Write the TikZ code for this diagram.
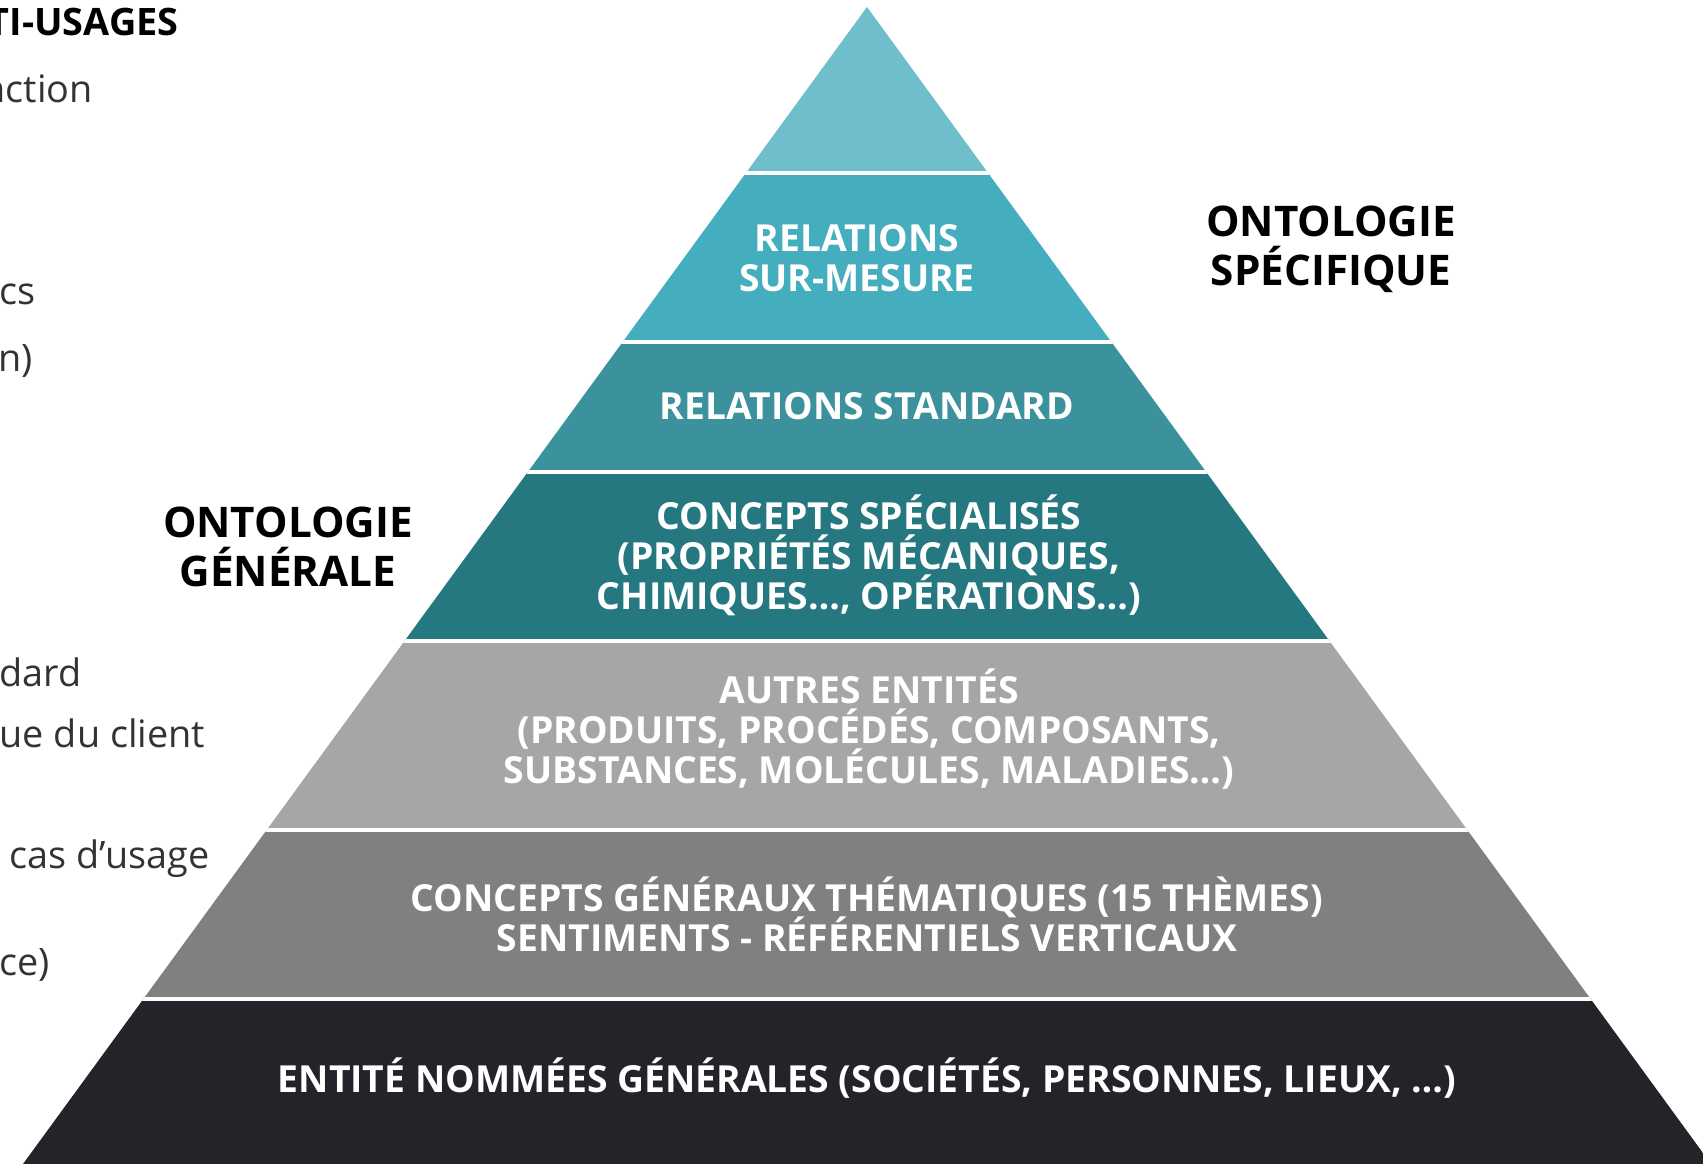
\documentclass[tikz,border=0pt]{standalone}
\usepackage{fontspec}
\setmainfont{Open Sans}
\definecolor{tealA}{RGB}{110,191,203}
\definecolor{tealB}{RGB}{69,174,190}
\definecolor{tealC}{RGB}{59,146,157}
\definecolor{tealD}{RGB}{37,120,128}
\definecolor{greyA}{RGB}{166,166,166}
\definecolor{greyB}{RGB}{128,128,128}
\definecolor{darkband}{RGB}{34,36,41}
\definecolor{txtgrey}{RGB}{51,51,51}
\newcommand{\tightlines}{\setlength{\lineskiplimit}{-20pt}}
\begin{document}
\begin{tikzpicture}[x=0.01cm,y=-0.01cm,
    bandtxt/.style={white,align=center,inner sep=0pt,font={\bfseries\fontsize{10.6}{11.4}\selectfont\tightlines}},
    sidetxt/.style={black,align=center,inner sep=0pt,font={\bfseries\fontsize{12}{14}\selectfont\tightlines}},
    frag/.style={anchor=base west,inner sep=0pt,txtgrey,font=\fontsize{10.75}{13}\selectfont}]
    \useasboundingbox (0,0) rectangle (1703,1164);
    \clip (0,0) rectangle (1703,1164);
    % pyramide
    \begin{scope}
        \clip (867,7)--(23,1164)--(1711,1164)--cycle;
        \fill[tealA] (0,0) rectangle (1703,173);
        \fill[tealB] (0,173) rectangle (1703,342);
        \fill[tealC] (0,342) rectangle (1703,472);
        \fill[tealD] (0,472) rectangle (1703,641);
        \fill[greyA] (0,641) rectangle (1703,830);
        \fill[greyB] (0,830) rectangle (1703,999);
        \fill[darkband] (0,999) rectangle (1703,1164);
        \draw[white,line width=1pt] (0,173)--(1703,173) (0,342)--(1703,342) (0,472)--(1703,472)
            (0,641)--(1703,641) (0,830)--(1703,830) (0,999)--(1703,999);
    \end{scope}
    \node[bandtxt] (surmesure) at (857,258) {RELATIONS\\SUR-MESURE};
    \node[bandtxt] (standard) at (867,406) {RELATIONS STANDARD};
    \node[bandtxt] (specialises) at (869,555) {CONCEPTS SPÉCIALISÉS\\(PROPRIÉTÉS MÉCANIQUES,\\CHIMIQUES…, OPÉRATIONS…)};
    \node[bandtxt] (autres) at (869,729) {AUTRES ENTITÉS\\(PRODUITS, PROCÉDÉS, COMPOSANTS,\\SUBSTANCES, MOLÉCULES, MALADIES…)};
    \node[bandtxt] (generaux) at (867,914) {CONCEPTS GÉNÉRAUX THÉMATIQUES (15 THÈMES)\\SENTIMENTS - RÉFÉRENTIELS VERTICAUX};
    \node[bandtxt] (nommees) at (867,1078) {ENTITÉ NOMMÉES GÉNÉRALES (SOCIÉTÉS, PERSONNES, LIEUX, …)};
    % ontologies
    \node[sidetxt] (specifique) at (1331,249) {ONTOLOGIE\\SPÉCIFIQUE};
    \node[sidetxt] (generale) at (288,547) {ONTOLOGIE\\GÉNÉRALE};
    % texte coupe a gauche
    \node[frag,black,font=\bfseries\fontsize{10.75}{13}\selectfont] (usages) at (-13,36) {TI-USAGES};
    \node[frag] (fonction) at (-18,103) {nction};
    \node[frag] (ics) at (-1,305) {cs};
    \node[frag] (parn) at (-2,372) {n)};
    \node[frag] (dard) at (-1,686) {dard};
    \node[frag] (client) at (-1,747) {ue du client};
    \node[frag] (usage) at (9,868) {cas d’usage};
    \node[frag] (parce) at (-1,975) {ce)};
\end{tikzpicture}
\end{document}
